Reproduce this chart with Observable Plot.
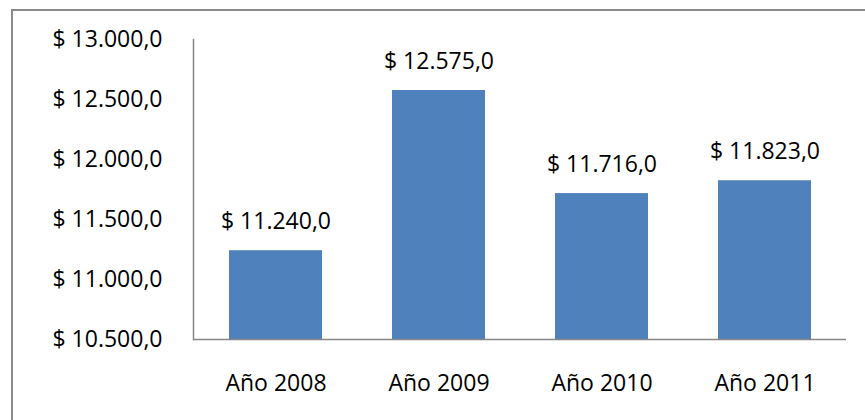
<!DOCTYPE html>
<html>
<head>
<meta charset="utf-8">
<script src="https://cdn.jsdelivr.net/npm/d3@7"></script>
<script src="https://cdn.jsdelivr.net/npm/@observablehq/plot@0.6"></script>
<style>
  html, body { margin: 0; padding: 0; background: #fff; overflow: hidden; }
  #wrap { position: relative; width: 865px; height: 420px; }
  #border { position: absolute; left: 11px; top: 9px; width: 900px; height: 450px;
            border-top: 2px solid #8a8a8a; border-left: 2px solid #8a8a8a; pointer-events: none; }
</style>
</head>
<body>
<div id="wrap"><div id="border"></div></div>
<script>
const categories = ["Año 2008", "Año 2009", "Año 2010", "Año 2011"];
const values = [11240, 12575, 11716, 11823];
const yTicks = [10500, 11000, 11500, 12000, 12500, 13000];

const locale = d3.formatLocale({decimal: ",", thousands: ".", grouping: [3], currency: ["$ ", ""]});
const fmt = locale.format("$,.1f");

const data = categories.map((c, i) => ({category: c, value: values[i]}));

const chart = Plot.plot({
  width: 865,
  height: 420,
  marginLeft: 193,
  marginRight: 19,
  marginTop: 39,
  marginBottom: 81,
  style: {fontFamily: "'Open Sans', sans-serif", fontSize: "23px", color: "#000", background: "transparent"},
  x: {domain: categories, paddingInner: 0.43, paddingOuter: 0.215, label: null},
  y: {domain: [10500, 13000], label: null},
  marks: [
    Plot.barY(data, {x: "category", y1: 10500, y2: "value", fill: "#4F81BD"}),
    Plot.text(data, {x: "category", y: "value", text: d => fmt(d.value), lineAnchor: "bottom", dy: -22, fill: "#000", fontSize: 23}),
    Plot.axisY({ticks: yTicks, tickFormat: fmt, tickSize: 0, tickPadding: 31, label: null, fontSize: 23}),
    Plot.axisX({tickSize: 0, tickPadding: 35, label: null, fontSize: 23}),
    Plot.ruleY([10500], {stroke: "#868686", strokeWidth: 1.5}),
    Plot.frame({anchor: "left", stroke: "#868686", strokeWidth: 1.5})
  ]
});
document.getElementById("wrap").prepend(chart);
</script>
</body>
</html>
